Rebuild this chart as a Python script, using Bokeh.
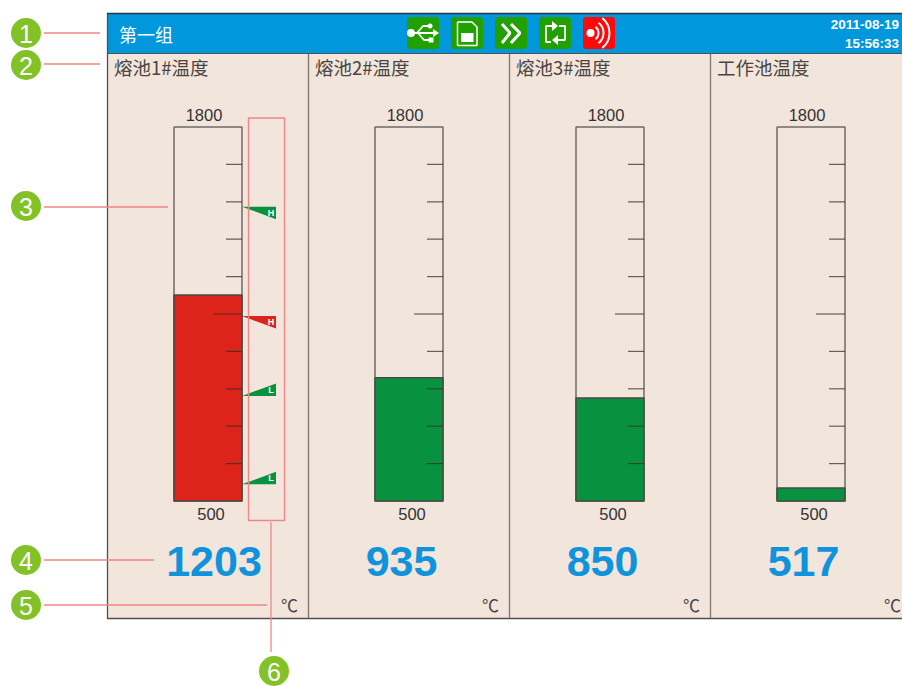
import math
from bokeh.plotting import figure
from bokeh.models import Range1d
from bokeh.core.properties import value
from bokeh.embed import file_html
from bokeh.resources import INLINE

# ---------- data ----------
group_name = "第一组"
date_text = "2011-08-19"
time_text = "15:56:33"
channels = ["熔池1#温度", "熔池2#温度", "熔池3#温度", "工作池温度"]
readings = [1203, 935, 850, 517]
bar_levels = [1216, 928, 858, 545]
bar_states = ["alarm", "ok", "ok", "ok"]
scale_min = 500
scale_max = 1800
unit = "℃"
ticks = [630, 760, 890, 1020, 1150, 1280, 1410, 1540, 1670]
major_tick = 1150
alarm_values = [1523, 1143, 865, 558]
alarm_kinds = ["H", "H", "L", "L"]
alarm_states = ["ok", "alarm", "ok", "ok"]
callouts = ["1", "2", "3", "4", "5", "6"]

# ---------- styles ----------
BG = "#f2e5dc"
HEAD = "#0097dd"
RED = "#dc241b"
GREEN = "#08923f"
ICON_G = "#22a000"
ICON_R = "#ff0a0a"
BALL = "#82c226"
NOTE = "#f08686"
EDGE = "#6f6a66"
BLUE = "#0f93dc"
CJK = value("Noto Sans CJK SC")
SANS = value("Liberation Sans")

W, H = 902, 686
X0, Y0 = 0.5, 0.5  # the page's own offset against the reference's pixel grid
p = figure(width=W, height=H, output_backend="svg", toolbar_location=None,
           x_range=Range1d(X0, X0 + W), y_range=Range1d(Y0 + H, Y0),
           min_border=0, min_border_left=0, min_border_right=0,
           min_border_top=0, min_border_bottom=0,
           x_axis_type="linear", y_axis_type="linear")
p.axis.visible = False
p.grid.visible = False
p.outline_line_color = None
p.background_fill_color = "white"
p.border_fill_color = "white"

# value scale shared by all tubes: scale_min sits at pixel row 501, scale_max at 127
units_per_px = (scale_max - scale_min) / (501 - 127)
p.extra_y_ranges["temp"] = Range1d(scale_min + (501 - (Y0 + H)) * units_per_px,
                                   scale_min + (501 - Y0) * units_per_px)
T = dict(y_range_name="temp")


def label(x, y, s, size, color="#333333", font=SANS, align="left", style="normal"):
    p.text([x], [y], text=[s], text_font=font, text_font_size=f"{size}px",
           text_color=color, text_align=align, text_baseline="middle",
           text_font_style=style)


# ---------- panel ----------
p.quad(left=[108], right=[903], top=[54], bottom=[618], fill_color=BG, line_color=None)
p.quad(left=[108], right=[903], top=[14], bottom=[53], fill_color=HEAD, line_color=None)
p.segment([107.5], [13], [107.5], [619], line_color="#55504d", line_width=1.3)
p.segment([107], [13.5], [903], [13.5], line_color="#23384a", line_width=1.3)
p.segment([108], [53.5], [903], [53.5], line_color="#55504d", line_width=1.2)
p.segment([107], [618.5], [903], [618.5], line_color="#55504d", line_width=1.3)

for i in range(1, len(channels)):
    x = 107.5 + 201 * i
    p.segment([x], [54], [x], [618], line_color="#857a73", line_width=1.4)

label(119, 34, group_name, 18, "white", CJK)

# ---------- channels ----------
for i, name in enumerate(channels):
    dx = 201 * i
    left, right = 174 + dx, 242 + dx
    label(114 + dx, 66.5, name, 18.5, "#4a4542", CJK)
    label(204 + dx, 115, str(scale_max), 16.5, "#333333", SANS, "center")
    label(211 + dx, 514, str(scale_min), 16.5, "#333333", SANS, "center")
    p.quad(left=[left], right=[right], bottom=[scale_min], top=[scale_max],
           fill_color=BG, line_color=EDGE, line_width=1.5, **T)
    p.quad(left=[left], right=[right], bottom=[scale_min], top=[bar_levels[i]],
           fill_color=RED if bar_states[i] == "alarm" else GREEN,
           line_color="#4a4a44", line_width=1.5, **T)
    starts = [(right - 29 if t == major_tick else right - 16) for t in ticks]
    p.segment(x0=starts, y0=ticks, x1=[right] * len(ticks), y1=ticks,
              line_color="#3a2f2b", line_alpha=0.75, line_width=1.2, **T)
    label(214 + dx if i == 0 else 200.5 + dx, 561, str(readings[i]), 43, BLUE, SANS, "center", "bold")
    label(281 + dx, 604, unit, 17, "#4a4542", CJK)

# ---------- alarm flags on the first tube ----------
flag_h = 12.5 * units_per_px
for v, kind, state in zip(alarm_values, alarm_kinds, alarm_states):
    other = v - flag_h if kind == "H" else v + flag_h
    p.patch([242, 276, 276], [v, v, other],
            fill_color=RED if state == "alarm" else GREEN, line_color=None, **T)
    p.text([271], [(v + other) / 2], text=[kind],
           text_font=SANS, text_font_size="9px", text_font_style="bold",
           text_color="white", text_align="center", text_baseline="middle", **T)


# ---------- toolbar icons ----------
def rounded(x0, y0, x1, y1, r=3, n=5):
    xs, ys = [], []
    for cx, cy, a0 in [(x1 - r, y0 + r, -90), (x1 - r, y1 - r, 0), (x0 + r, y1 - r, 90), (x0 + r, y0 + r, 180)]:
        for k in range(n):
            a = math.radians(a0 + 90 * k / (n - 1))
            xs.append(cx + r * math.cos(a))
            ys.append(cy + r * math.sin(a))
    return xs, ys


icon_x = [407, 451, 495, 539, 583]
for k, x in enumerate(icon_x):
    xs, ys = rounded(x, 17, x + 32, 49)
    p.patch(xs, ys, fill_color=ICON_R if k == 4 else ICON_G, line_color=None)

W_ = dict(line_color="white")
# usb
p.multi_line([[411, 435], [417, 423, 429], [418, 424, 431]],
             [[33, 33], [33, 26, 26], [33, 40, 40]], line_width=1.8, **W_)
p.scatter([411], [33], size=8, fill_color="white", line_color=None)
p.patch([433, 439, 433], [29, 33, 37], fill_color="white", line_color=None)
p.scatter([430], [26], size=5, fill_color="white", line_color=None)
p.scatter([431], [40], size=5, marker="square", fill_color="white", line_color=None)
# save
p.line([457.5, 472, 477, 477, 457.5, 457.5], [22, 22, 27, 45.5, 45.5, 22], line_width=1.5, **W_)
p.quad(left=[461], right=[473.5], top=[33], bottom=[42], fill_color="white", line_color=None)
# forward
p.multi_line([[502, 510, 502], [511, 520, 511]], [[24, 33, 43], [24, 33, 43]], line_width=3, **W_)
# loop
p.multi_line([[552, 546, 546, 551], [559, 565, 565, 558]],
             [[26, 26, 42, 42], [26, 26, 40, 40]], line_width=1.8, **W_)
p.patch([552, 558, 552], [21, 26, 31], fill_color="white", line_color=None)
p.patch([558, 552, 558], [35, 40, 45], fill_color="white", line_color=None)
# signal
p.scatter([590.5], [33], size=8, fill_color="white", line_color=None)
p.arc([590.5] * 3, [33] * 3, radius=[8, 13, 19], start_angle=-0.9, end_angle=0.9, line_color="white", line_width=2)

# ---------- date / time ----------
label(899, 24, date_text, 13.5, "white", SANS, "right", "bold")
label(899, 43, time_text, 13.5, "white", SANS, "right", "bold")

# ---------- callouts ----------
ball_xy = [(26, 33), (26, 65), (26, 206), (26, 560), (26, 605), (274, 671)]
p.segment([44, 44, 44, 44, 44, 271], [33, 64, 207, 560, 605, 522],
          [100, 100, 168, 154, 267, 271], [33, 64, 207, 560, 605, 652],
          line_color=NOTE, line_width=1.3)
p.quad(left=[248.5], right=[284.5], top=[118], bottom=[520.5], fill_color=None,
       line_color=NOTE, line_width=1.4)
for (x, y), s in zip(ball_xy, callouts):
    p.scatter([x], [y], size=30, fill_color=BALL, line_color=None)
    label(x, y + 1, s, 25, "white", SANS, "center")

open("out.html", "w").write(file_html(p, INLINE))
